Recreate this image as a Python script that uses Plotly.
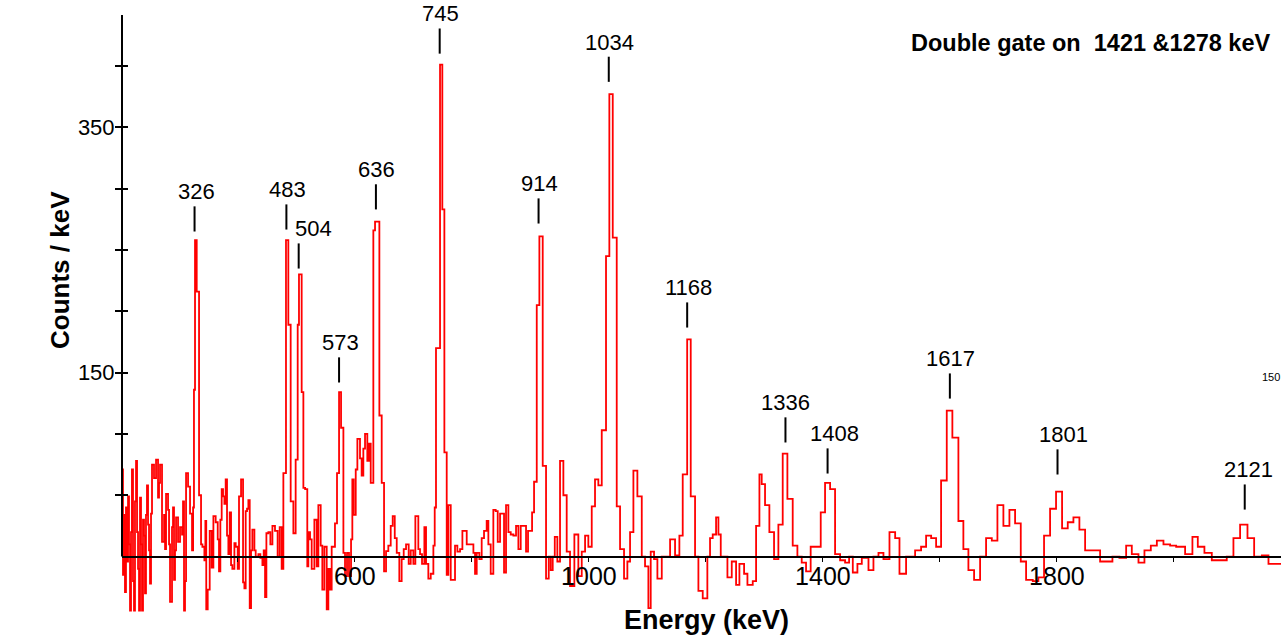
import plotly.graph_objects as go

# ---------------- data ----------------
energy = [
    202, 203.7, 205.4, 207.1, 208.8, 210.5, 212.3, 214, 215.7, 217.4, 219, 220.8, 222.5, 224.2, 226, 227.7,
    229.4, 231.1, 232.8, 234.5, 236.2, 237.9, 239.6, 241.3, 243, 244.7, 246.5, 248.2, 249.9, 251.6, 253.3,
    256.7, 260.2, 263.6, 265.3, 267, 270.4, 273.9, 275.6, 277.3, 280.7, 282.4, 284.1, 287.5, 289.2, 290.9,
    292.6, 294.4, 297.8, 301.2, 304.6, 306.3, 308, 309.7, 311.5, 314.9, 318.3, 321.7, 323.5, 325, 326.8,
    329.7, 333.7, 337.1, 339.4, 342.8, 344.5, 346, 348.5, 351.9, 355.3, 358.2, 362.1, 365.6, 367.8, 370.1,
    372.4, 374.7, 377, 379.2, 381.5, 383.8, 386.1, 388.4, 390.6, 394.1, 396.3, 399.8, 402, 405.5, 408.9,
    411.2, 413.4, 415.7, 418, 420.3, 422.6, 424.8, 428.3, 430.5, 435.1, 438.5, 442, 444.2, 446.5, 448.8,
    452.2, 455.6, 459.1, 463.5, 468, 471.5, 474.9, 477.8, 482.3, 486.3, 490.3, 494.9, 498.8, 502.3, 504.5,
    509.1, 512, 515, 518.7, 520.5, 523.4, 526.2, 530.8, 534.8, 537.6, 541.6, 544.4, 547.9, 551.9, 554.7,
    557.6, 560.4, 566, 569.5, 573, 576.4, 580.4, 583.2, 586.6, 590, 593.5, 595.7, 598, 601.5, 604.3, 608.8,
    611.6, 614.5, 617.4, 621.3, 624.2, 627.1, 631.6, 634.5, 641.9, 645.9, 649.9, 653.3, 657.2, 661.3, 664.7,
    668.2, 671.6, 676, 680, 683.5, 687.5, 692, 695.5, 700, 703.4, 708.5, 711.4, 714.8, 718.8, 721.7, 725.6,
    729.7, 734.2, 736.5, 738.7, 745.6, 749.5, 753, 757, 759.8, 763.9, 771.2, 775.2, 779.8, 783.8, 791.2,
    802.6, 805.4, 808.3, 812.8, 816.8, 820.8, 825.3, 828.2, 832.2, 836.7, 840.7, 844.2, 848.2, 855, 858.4,
    862.4, 866.4, 871, 875.5, 879.5, 883.5, 892.6, 896, 902.9, 906.3, 910.9, 915.4, 921.1, 926.8, 931.4,
    934.8, 938.2, 941.7, 946.1, 950.7, 956.4, 962.1, 967.8, 975.2, 982, 987.8, 993.5, 999.1, 1004.9, 1010.5,
    1016.2, 1022, 1029.3, 1035, 1040.8, 1047.6, 1053.3, 1060.1, 1065.8, 1070.4, 1076.1, 1082.9, 1090.4,
    1096, 1101.7, 1105.7, 1111.4, 1117.1, 1124.6, 1138.8, 1147.3, 1154.7, 1160.4, 1168, 1174.1, 1181.5,
    1187.2, 1194.6, 1202.5, 1207.1, 1211.7, 1217.4, 1221.4, 1225.4, 1236.8, 1244.2, 1251.6, 1257.3, 1265.3,
    1271, 1280.1, 1285.8, 1291.5, 1295.4, 1301.1, 1308.5, 1316.5, 1323.9, 1331.3, 1339.3, 1348.4, 1356.4,
    1363.8, 1371.2, 1379.1, 1396.3, 1403.7, 1412.3, 1420.8, 1429.4, 1437.9, 1444.8, 1451.1, 1459, 1466.5,
    1477.9, 1486.4, 1495, 1503.5, 1513.8, 1523.5, 1530.9, 1542.2, 1557.6, 1567.8, 1576.4, 1585, 1593.5,
    1602, 1611.7, 1621.3, 1631.6, 1640.1, 1648.7, 1658.4, 1668.7, 1678.9, 1688.7, 1698.3, 1708.5, 1718.8,
    1728.5, 1738.2, 1747.3, 1758.7, 1768.3, 1778, 1788.3, 1798.5, 1808.8, 1818.5, 1828.2, 1838.4, 1848.2,
    1873.8, 1894.9, 1906.8, 1918.3, 1928, 1939.4, 1949.6, 1960.5, 1970.8, 1982.1, 1993.5, 2003.8, 2019.1,
    2031.6, 2040.8, 2052.1, 2064.7, 2090.3, 2101.7, 2113.1, 2125.7, 2137.1, 2150.3, 2161.6,
]
counts = [
    71, -15, 34, -29, 40, -4, 49, 10, -44, 20, 71, -20, -44, 45, 78, 20,
    -10, -44, 48, 10, -44, 30, 17, -30, 34, 58, 26, 5, -22, 35, 75,
    64, 79, 48, 60, 75, 12, 34, 6, 51, 38, 10, -37, 24, 40, -19,
    5, 32, 12, 24, 18, 45, -44, -20, 68, 57, 35, 5, 40, 136, 258,
    216, 50, 10, 8, -3, 29, -43, -27, 21, -9, 33, 28, 14, -12, 30,
    55, 49, 43, 63, 17, 2, 36, -7, -10, 11, 8, -10, 49, 63, -21,
    -26, 37, 39, 46, -42, 5, 22, 5, 0, 2, -1, -7, 5, -33, 19,
    20, 10, 25, 21, 0, 24, -10, 68, 258, 189, 45, 19, 79, 189, 230,
    134, 56, 55, -8, 20, 14, -10, 30, -8, 42, 9, -27, 8, -43, -10,
    -27, 8, 27, 68, 134, 105, 3, -16, 3, -16, 14, 63, 34, 71, 96, 80,
    66, 88, 100, 78, 92, 60, 266, 273, 115, 60, -12, 4.5, 9, 25, 33,
    15, 3, -20, -2, 6, 10, -6, 5, -6, 33, 6, 2, -6, 24, -6, -18,
    -14, 9, 40, 170, 401, 283, 85, -15, 42, -19, 9, 4, 6, 21, 10,
    3, -14, 3, -2, 15, 21, 29, 10, -14, 38, 37, 12, 35, -13, 42,
    20, 18, 17, 25, 6, 25, 4, 21, 36, 61, 205, 261, 74, -18, 0,
    -11, 0, 16, -4, 78, 50, 4, -24, 18, -16, 4, 17, 8, 41, 63,
    58, 103, 245, 377, 260, 41, 6, -18, -4, 20, 70, 49, 0,
    -8, -42, 4, -2, -18, 0, 14, 1, 17, 67, 177, 49, 0,
    -28, -34, 0, 15, 18, 32, 18, 0, -17, -4, -23, -6, -14,
    -23, -20, 25, 67, 59, 42, 20, -2, 26, 84, 47, 9, 0,
    -5, -12, 8, 36, 60, 55, 2, -3, -5, 0, -13, -6, -1,
    -11, 0, 3, -2, 20, 15, -14, 0, 5, 8, 17, 15, 8,
    62, 119, 97, 29, 6, -11, -19, 0, 15, 13, 42, 25, 38,
    27, -4, -19, -20, -17, 17, 39, 53, 23, 28, 32, 22, 5,
    -4, 0, -1, 9, 2, -5, 5, 9, 13, 10, 9, 8, 2,
    16, 8, 3, -3, 0, 15, 26, 15, 0, 1, -6,
]
last_edge = 2190

peak_labels = ["326", "483", "504", "573", "636", "745", "914", "1034", "1168",
               "1336", "1408", "1617", "1801", "2121"]
peak_energy = [326, 483, 504, 573, 636, 745, 914, 1034, 1168, 1336, 1408, 1617, 1801, 2121]
peak_mark_base = [265, 266.6, 234.8, 141.9, 283, 410, 271.5, 387, 186.7, 93, 67.7, 128.8, 66.9, 38.3]
peak_text_shift = [2, 1, 15, 1, 1, 1, 1, 1, 1, 0, 7, 1, 6, 4]
mark_len = 20.5

y_tick_vals = [50, 100, 150, 200, 250, 300, 350, 400]
y_tick_text = ["", "", "150", "", "", "", "350", ""]
x_major = [600, 1000, 1400, 1800]
x_minor = [400, 800, 1200, 1600, 2000]

title_text = "Double gate on\u00a0 1421 &amp;1278 keV"
x_title = "Energy (keV)"
y_title = "Counts / keV"

# ---------------- layout geometry ----------------
W, H = 1281, 640
ML, MR, MT, MB = 122, 0, 15, 27
XR = [202, 2183]
YR = [-46, 441.5]
FONT = "Liberation Sans, Arial, Helvetica, sans-serif"


def paper_x(px):
    return (px - ML) / (W - ML - MR)


def paper_y(py):
    return (H - MB - py) / (H - MT - MB)


fig = go.Figure()

fig.add_trace(go.Scatter(
    x=energy + [last_edge], y=counts + [counts[-1]],
    mode="lines", line=dict(color="#ff0000", width=1.8, shape="hv"),
    hoverinfo="skip", showlegend=False,
))

mx, my = [], []
for e, b in zip(peak_energy, peak_mark_base):
    mx += [e, e, None]
    my += [b, b + mark_len, None]
fig.add_trace(go.Scatter(x=mx, y=my, mode="lines",
                         line=dict(color="black", width=2),
                         hoverinfo="skip", showlegend=False))

# invisible trace to materialise the mirrored tick axis
fig.add_trace(go.Scatter(x=[energy[0]], y=[0], yaxis="y2", mode="markers",
                         marker=dict(opacity=0), hoverinfo="skip", showlegend=False))

annotations = []
for t, e, b, s in zip(peak_labels, peak_energy, peak_mark_base, peak_text_shift):
    annotations.append(dict(x=e, y=b + mark_len, xref="x", yref="y", text=t,
                            showarrow=False, xanchor="center", yanchor="bottom",
                            xshift=s, yshift=0,
                            font=dict(family=FONT, size=22, color="black")))

annotations += [
    dict(x=paper_x(909), y=paper_y(43), xref="paper", yref="paper",
         text="<b>" + title_text + "</b>", showarrow=False,
         xanchor="left", yanchor="middle",
         font=dict(family=FONT, size=23.5, color="black")),
    dict(x=paper_x(706), y=paper_y(620), xref="paper", yref="paper",
         text="<b>" + x_title + "</b>", showarrow=False,
         xanchor="center", yanchor="middle",
         font=dict(family=FONT, size=27, color="black")),
    dict(x=paper_x(60), y=paper_y(270), xref="paper", yref="paper",
         text="<b>" + y_title + "</b>", showarrow=False, textangle=-90,
         xanchor="center", yanchor="middle",
         font=dict(family=FONT, size=26, color="black")),
    dict(x=paper_x(1260), y=paper_y(377), xref="paper", yref="paper",
         text="150", showarrow=False, xanchor="left", yanchor="middle",
         font=dict(family=FONT, size=11, color="black")),
]

x_pos = (0 - YR[0]) / (YR[1] - YR[0])

# y-axis line only from the energy axis upwards
shapes = [dict(type="line", xref="paper", yref="y", x0=0, x1=0, y0=0, y1=YR[1],
               line=dict(color="black", width=2), layer="above")]

fig.update_layout(
    width=W, height=H,
    margin=dict(l=ML, r=MR, t=MT, b=MB, pad=0),
    paper_bgcolor="white", plot_bgcolor="white",
    showlegend=False,
    font=dict(family=FONT, color="black"),
    xaxis=dict(
        range=XR, anchor="free", position=x_pos,
        showline=True, linecolor="black", linewidth=2,
        showgrid=False, zeroline=False,
        tickmode="array", tickvals=x_major, ticktext=[str(v) for v in x_major],
        ticks="outside", ticklen=4, tickwidth=1.2, tickcolor="black",
        minor=dict(tickmode="array", tickvals=x_minor, ticks="outside",
                   ticklen=4, tickwidth=1.2, tickcolor="black", showgrid=False),
        tickfont=dict(family=FONT, size=25, color="black"),
        ticklabelstandoff=-7,
    ),
    yaxis=dict(
        range=YR, showline=False,
        showgrid=False, zeroline=False,
        tickmode="array", tickvals=y_tick_vals, ticktext=y_tick_text,
        ticks="outside", ticklen=6, tickwidth=1.5, tickcolor="black",
        tickfont=dict(family=FONT, size=22, color="black"),
        ticklabelstandoff=-4,
    ),
    yaxis2=dict(
        range=YR, overlaying="y", side="left", anchor="x",
        showline=False, showgrid=False, zeroline=False,
        tickmode="array", tickvals=y_tick_vals, showticklabels=False,
        ticks="inside", ticklen=6, tickwidth=1.5, tickcolor="black",
    ),
    shapes=shapes,
    annotations=annotations,
)

fig.write_html("out.html")
